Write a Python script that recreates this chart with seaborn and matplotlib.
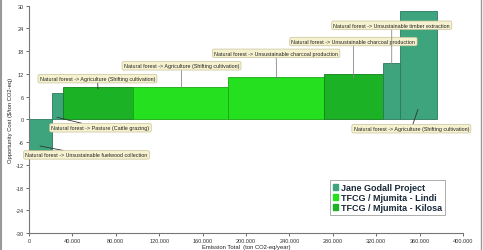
import matplotlib
matplotlib.use("Agg")
import matplotlib.pyplot as plt
from matplotlib.patches import Patch
from matplotlib.ticker import FuncFormatter
from matplotlib.lines import Line2D
import numpy as np
import seaborn as sns

# ---- data ----
projects = ["Jane Godall Project", "Jane Godall Project", "TFCG / Mjumita - Kilosa",
            "TFCG / Mjumita - Lindi", "TFCG / Mjumita - Lindi", "TFCG / Mjumita - Kilosa",
            "Jane Godall Project", "Jane Godall Project"]
emissions = [20900, 10700, 64400, 87700, 88500, 54300, 15400, 33800]   # ton CO2-eq/year (bar width)
costs = [-8.0, 7.05, 8.6, 8.6, 11.2, 11.9, 14.8, 28.5]                  # $/ton CO2-eq (bar height)
labels = ["Natural forest -> Unsustainable fuelwood collection",
          "Natural forest -> Pasture (Cattle grazing)",
          "Natural forest -> Agriculture (Shifting cultivation)",
          "Natural forest -> Agriculture (Shifting cultivation)",
          "Natural forest -> Unsustainable charcoal production",
          "Natural forest -> Unsustainable charcoal production",
          "Natural forest -> Unsustainable timber extraction",
          "Natural forest -> Agriculture (Shifting cultivation)"]
legend_order = ["Jane Godall Project", "TFCG / Mjumita - Lindi", "TFCG / Mjumita - Kilosa"]
x_ticks = [0, 40000, 80000, 120000, 160000, 200000, 240000, 280000, 320000, 360000, 400000]
y_ticks = [-30, -24, -18, -12, -6, 0, 6, 12, 18, 24, 30]

# ---- styling ----
sns.set_theme(style="white")
plt.rcParams['font.family'] = ['Liberation Sans', 'DejaVu Sans']
colors = {"Jane Godall Project": "#3da47e",
          "TFCG / Mjumita - Lindi": "#25e01f",
          "TFCG / Mjumita - Kilosa": "#1bb225"}
edges = {"Jane Godall Project": "#2a7a5c",
         "TFCG / Mjumita - Lindi": "#1aa615",
         "TFCG / Mjumita - Kilosa": "#137f1a"}

fig = plt.figure(figsize=(4.83, 2.51), dpi=100)
ax = fig.add_axes([0.060, 0.0677, 0.8986, 0.9063])

lefts = np.concatenate([[0], np.cumsum(emissions)[:-1]])
for l, w, c, p in zip(lefts, emissions, costs, projects):
    ax.bar(l, c, width=w, align="edge", color=colors[p], edgecolor=edges[p], linewidth=0.6)

# annotation layout (box centre, leader point)
ann_layout = [
    ((53000, -9.4), (10100, -7.05), "#333333"),
    ((65900, -2.25), (26000, 0.5), "#333333"),
    ((63100, 10.7), (63600, 8.0), "#333333"),
    ((140600, 14.1), (140700, 8.2), "#888888"),
    ((227800, 17.4), (228300, 10.3), "#888888"),
    ((299000, 20.5), (299000, 10.8), "#888888"),
    ((334300, 24.8), (334300, 13.5), "#888888"),
    ((352400, -2.5), (358500, 2.6), "#333333"),
]
for txt, (tpos, pt, lc) in zip(labels, ann_layout):
    ax.annotate(txt, xy=pt, xytext=tpos, ha="center", va="center", fontsize=3.9,
                color="#222222",
                bbox=dict(boxstyle="round,pad=0.32,rounding_size=0.3", fc="#f6f1cf",
                          ec="#c9c39a", lw=0.5),
                arrowprops=dict(arrowstyle="-", color=lc, lw=0.6, shrinkA=0, shrinkB=0))

ax.set_xlim(0, 400000)
ax.set_ylim(-30, 30)
ax.set_xticks(x_ticks)
ax.set_yticks(y_ticks)
ax.xaxis.set_major_formatter(FuncFormatter(lambda v, p: "0" if v == 0 else f"{int(v):,}".replace(",", ".")))
ax.yaxis.set_major_formatter(FuncFormatter(lambda v, p: f"{int(v)}"))
ax.tick_params(axis="both", labelsize=4, colors="#333333", length=2, width=0.5, pad=1.5, direction="out")
ax.tick_params(axis="both", which="both", bottom=True, left=True)
for s in ["top", "right"]:
    ax.spines[s].set_visible(False)
for s in ["left", "bottom"]:
    ax.spines[s].set_color("#777777")
    ax.spines[s].set_linewidth(0.8)

ax.set_xlabel("Emission Total  (ton CO2-eq/year)", fontsize=4.2, color="#222222", labelpad=1)
ax.set_ylabel("Opportunity Cost ($/ton CO2-eq)", fontsize=4.2, color="#222222", labelpad=2)

handles = [Patch(facecolor=colors[p], edgecolor=colors[p]) for p in legend_order]
leg = ax.legend(handles, legend_order, loc="upper left", bbox_to_anchor=(0.684, 0.252),
                prop={"weight": "bold", "size": 6.5}, frameon=True,
                handlelength=0.6, handleheight=0.6, handletextpad=0.3, labelspacing=0.12,
                borderpad=0.3, fancybox=False)
leg.get_frame().set_edgecolor("#888888")
leg.get_frame().set_linewidth(0.6)
for t in leg.get_texts():
    t.set_color("#1a2a3a")

# figure side borders
fig.add_artist(Line2D([0.003, 0.003], [0, 1], transform=fig.transFigure, color="#999999", lw=1.5))
fig.add_artist(Line2D([0.995, 0.995], [0, 1], transform=fig.transFigure, color="#999999", lw=1.0))

fig.savefig("out.png", dpi=100)
